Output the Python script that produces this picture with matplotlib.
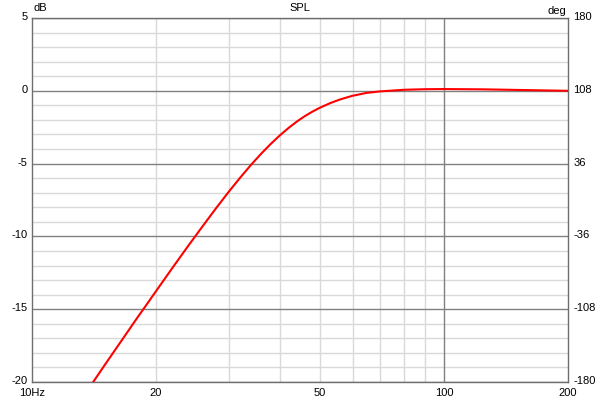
import matplotlib.pyplot as plt
import matplotlib.ticker as mticker
from matplotlib.transforms import ScaledTranslation

# SPL response
freq = [14, 15, 16, 17, 18, 19, 20, 22, 24, 26, 28, 30, 32, 34, 36, 38, 40,
        42, 44, 46, 48, 50, 53, 56, 60, 65, 70, 80, 90, 100, 125, 150, 200]
spl = [-20.1, -18.85, -17.7, -16.62, -15.6, -14.66, -13.76, -12.1, -10.61,
       -9.27, -8.05, -6.95, -5.97, -5.09, -4.32, -3.64, -3.05, -2.54, -2.1,
       -1.73, -1.42, -1.16, -0.84, -0.59, -0.34, -0.14, -0.04, 0.07, 0.11,
       0.12, 0.1, 0.06, 0.0]

x_ticks = [10, 20, 50, 100, 200]
x_labels = ['10Hz', '20', '50', '100', '200']
db_ticks = [5, 0, -5, -10, -15, -20]
deg_ticks = [180, 108, 36, -36, -108, -180]

plt.rcParams['font.family'] = ['Liberation Sans', 'DejaVu Sans']
plt.rcParams['font.size'] = 8
plt.rcParams['axes.unicode_minus'] = False

fig = plt.figure(figsize=(6.01, 4.0), dpi=100)
ax = fig.add_axes([32 / 601, 18 / 400, 536 / 601, 364 / 400])

light = '#d9d9d9'
dark = '#808080'

# grid
for v in range(-20, 6):
    if v % 5 == 0:
        ax.axhline(v, color=dark, lw=1, zorder=1)
    else:
        ax.axhline(v, color=light, lw=1, zorder=0)
for f in [20, 30, 40, 50, 60, 70, 80, 90]:
    ax.axvline(f, color=light, lw=1, zorder=0)
ax.axvline(100, color=dark, lw=1, zorder=1)

ax.plot(freq, spl, color='#ff0000', lw=1.5, zorder=3, solid_capstyle='butt')

ax.set_xscale('log')
ax.set_xlim(10, 200)
ax.set_ylim(-20, 5)
ax.set_xticks(x_ticks)
ax.set_xticklabels(x_labels)
ax.xaxis.set_minor_locator(mticker.NullLocator())
ax.set_yticks(db_ticks)
ax.tick_params(length=0)
ax.tick_params(axis='x', pad=4)
ax.tick_params(axis='y', pad=3)

for s in ax.spines.values():
    s.set_color('#6e6e6e')
    s.set_linewidth(1)

ax2 = ax.twinx()
ax2.set_ylim(-180, 180)
ax2.set_yticks(deg_ticks)
ax2.tick_params(length=0, pad=4)
for s in ax2.spines.values():
    s.set_visible(False)

# tick labels sit slightly above their grid lines
up = ScaledTranslation(0, 1.5 / 72, fig.dpi_scale_trans)
for lab in ax.get_yticklabels() + ax2.get_yticklabels():
    lab.set_transform(lab.get_transform() + up)

fig.text(34 / 601, 1 - 8 / 400, 'dB', ha='left', va='center')
fig.text(300 / 601, 1 - 8 / 400, 'SPL', ha='center', va='center')
fig.text(566 / 601, 1 - 11 / 400, 'deg', ha='right', va='center')

fig.savefig('out.png', dpi=100)
